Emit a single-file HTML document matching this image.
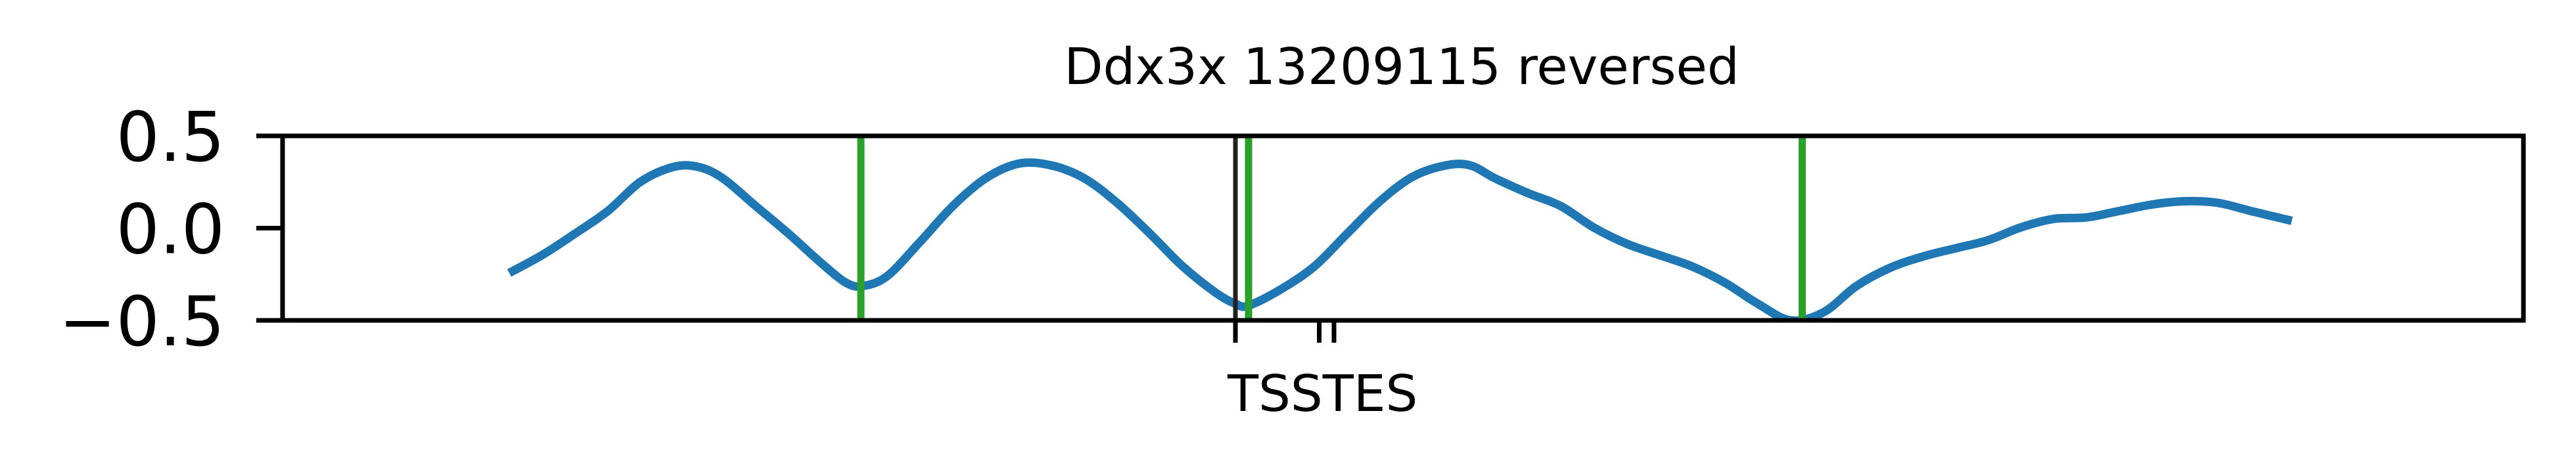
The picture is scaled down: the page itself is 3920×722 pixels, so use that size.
<!DOCTYPE html>
<html><head><meta charset="utf-8"><style>
html,body{margin:0;padding:0;background:#fff;}
svg{display:block;font-family:"DejaVu Sans","Liberation Sans",sans-serif;}
</style></head><body>
<svg id="chart" width="3920" height="722" viewBox="0 0 3920 722" xmlns="http://www.w3.org/2000/svg">
<text x="2133" y="128" font-size="77" text-anchor="middle">Ddx3x 13209115 reversed</text>
<g id="plot"></g>
</svg>
<script>
const positions = [138,158,178,198,218,238,253,268,288,308,328,343,353,368,388,408,428,448,468,488,508,528,548,568,580,588,608,628,648,668,688,708,723,738,758,778,798,818,838,858,878,898,918,938,958,978,998,1018,1038,1058,1078,1098,1118,1138,1158,1178,1198,1223];
const signal = [-0.243,-0.146,-0.03,0.093,0.252,0.332,0.332,0.27,0.12,-0.03,-0.19,-0.296,-0.314,-0.26,-0.075,0.12,0.27,0.35,0.34,0.27,0.137,-0.03,-0.208,-0.35,-0.41,-0.42,-0.33,-0.208,-0.03,0.146,0.279,0.34,0.34,0.27,0.19,0.12,0.004,-0.084,-0.146,-0.208,-0.296,-0.41,-0.5,-0.456,-0.314,-0.217,-0.155,-0.11,-0.066,0.004,0.05,0.058,0.093,0.128,0.146,0.137,0.093,0.04];
const greenLines = [352, 588, 925];
const tssPos = [580];
const tesPos = [631, 640];
const yTicks = [0.5, 0.0, -0.5];
const yTickLabels = ["0.5", "0.0", "\u22120.5"];
const xMax = 1364;

const L=430,R=3840,T=207,B=488;
const sx = v => L + v/xMax*(R-L);
const sy = v => B - (v+0.5)/1.0*(B-T);
const NS="http://www.w3.org/2000/svg";
const g=document.getElementById('plot');
function mk(tag, attrs){const e=document.createElementNS(NS,tag);for(const k in attrs)e.setAttribute(k,attrs[k]);g.appendChild(e);return e;}

const pts=positions.map((p,i)=>[sx(p),sy(signal[i])]);
let d='M'+pts[0][0].toFixed(1)+','+pts[0][1].toFixed(1);
for(let i=0;i<pts.length-1;i++){
 const p0=pts[Math.max(0,i-1)],p1=pts[i],p2=pts[i+1],p3=pts[Math.min(pts.length-1,i+2)];
 const c1=[p1[0]+(p2[0]-p0[0])/6,p1[1]+(p2[1]-p0[1])/6];
 const c2=[p2[0]-(p3[0]-p1[0])/6,p2[1]-(p3[1]-p1[1])/6];
 d+=' C'+c1[0].toFixed(1)+','+c1[1].toFixed(1)+' '+c2[0].toFixed(1)+','+c2[1].toFixed(1)+' '+p2[0].toFixed(1)+','+p2[1].toFixed(1);
}
const clip=mk('clipPath',{id:'clp'});
const cr=document.createElementNS(NS,'rect');cr.setAttribute('x',L);cr.setAttribute('y',T);cr.setAttribute('width',R-L);cr.setAttribute('height',B-T);clip.appendChild(cr);
const path=mk('path',{d:d,fill:'none',stroke:'#1f77b4','stroke-width':13,'stroke-linejoin':'round','clip-path':'url(#clp)'});



tssPos.forEach(p=>{const l=mk('line',{x1:sx(p),x2:sx(p),y1:T,y2:B,stroke:'#222','stroke-width':7});

});
greenLines.forEach(p=>{const l=mk('line',{x1:sx(p),x2:sx(p),y1:T,y2:B,stroke:'#2ca02c','stroke-width':11});

});

const fr=mk('rect',{x:L,y:T,width:R-L,height:B-T,fill:'none',stroke:'#000','stroke-width':7});



yTicks.forEach((v,i)=>{
 const t=mk('line',{x1:L-40,x2:L,y1:sy(v),y2:sy(v),stroke:'#000','stroke-width':7});
 
 
 const tx=mk('text',{x:L-88,y:sy(v)+38,'font-size':104,'text-anchor':'end'});
 tx.textContent=yTickLabels[i];
 
 
});
tssPos.concat(tesPos).forEach(p=>{
 const t=mk('line',{x1:sx(p),x2:sx(p),y1:B,y2:B+34,stroke:'#000','stroke-width':7});
 
 
});
const xl=mk('text',{x:sx(tssPos[0])-12,y:626,'font-size':77});
xl.textContent='TSSTES';


</script>
</body></html>
